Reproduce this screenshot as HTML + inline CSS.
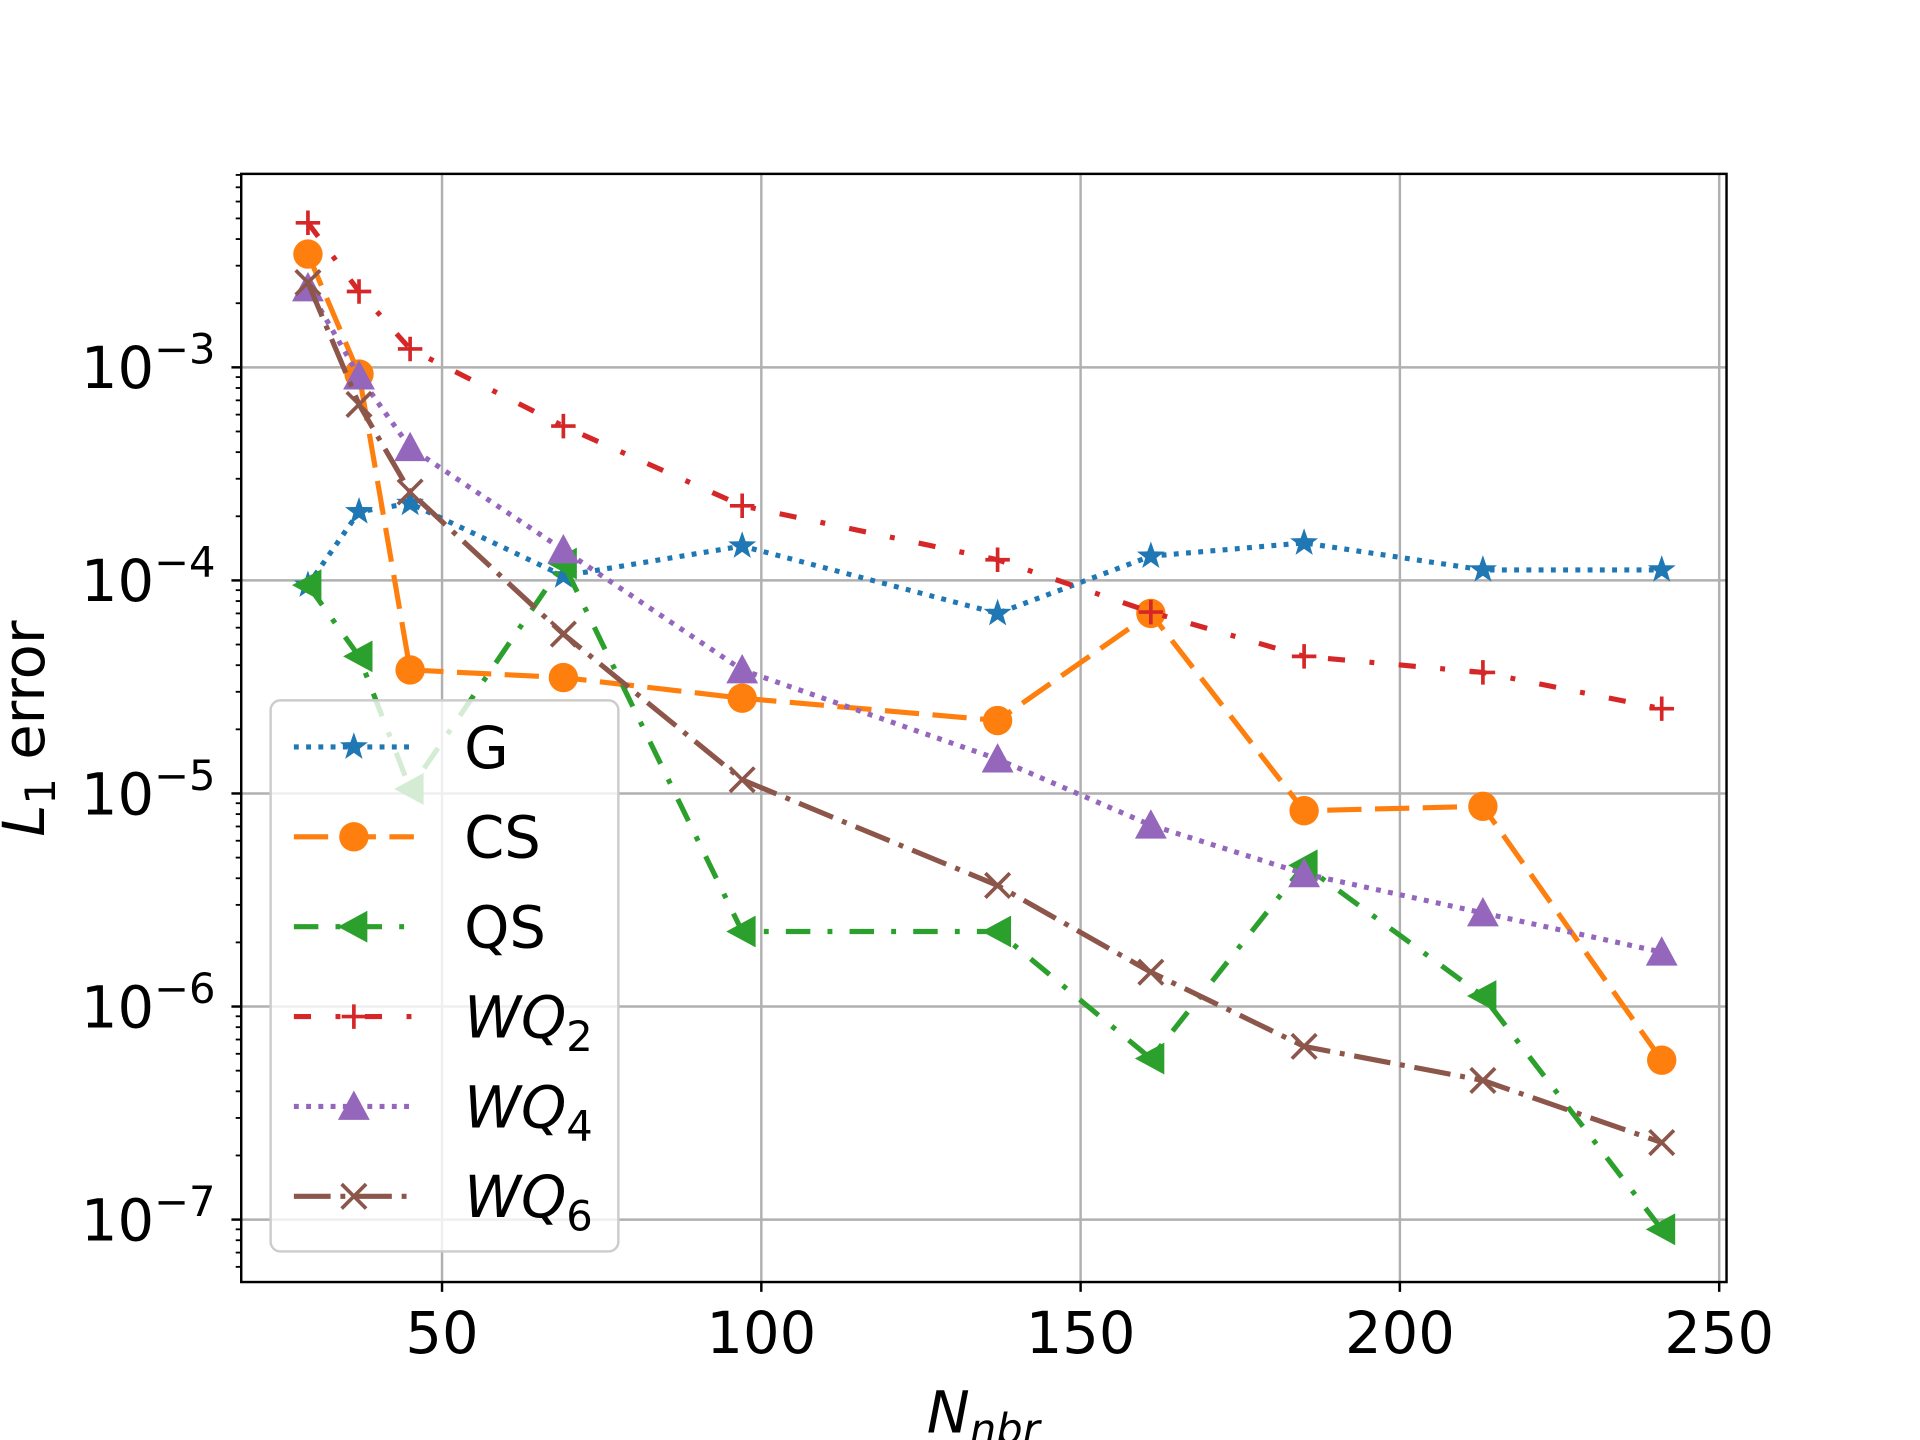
<!DOCTYPE html>
<html><head><meta charset="utf-8"><style>html,body{margin:0;padding:0;background:#fff}svg{display:block}</style></head>
<body>
<svg id="chart" width="1920" height="1440" viewBox="0 0 1568 1176" preserveAspectRatio="none" xmlns="http://www.w3.org/2000/svg" font-family="'DejaVu Sans','Liberation Sans',sans-serif">
<rect width="1568" height="1176" fill="#fff"/>
<g id="grid"></g><g id="series"></g><g id="axes"></g><g id="legend"></g>
</svg>
<script>
const xs = [29, 37, 45, 69, 97, 137, 161, 185, 213, 241];
const gVals = [9.5e-5, 2.1e-4, 2.3e-4, 1.05e-4, 1.45e-4, 7e-5, 1.3e-4, 1.5e-4, 1.12e-4, 1.12e-4];
const csVals = [3.4e-3, 9.3e-4, 3.8e-5, 3.5e-5, 2.8e-5, 2.2e-5, 7e-5, 8.3e-6, 8.7e-6, 5.6e-7];
const qsVals = [9.5e-5, 4.4e-5, 1.05e-5, 1.2e-4, 2.25e-6, 2.25e-6, 5.7e-7, 4.6e-6, 1.12e-6, 9e-8];
const wq2Vals = [4.77e-3, 2.27e-3, 1.22e-3, 5.3e-4, 2.24e-4, 1.25e-4, 7.1e-5, 4.4e-5, 3.7e-5, 2.5e-5];
const wq4Vals = [2.36e-3, 9.1e-4, 4.2e-4, 1.39e-4, 3.8e-5, 1.45e-5, 7.1e-6, 4.2e-6, 2.75e-6, 1.8e-6];
const wq6Vals = [2.5e-3, 6.7e-4, 2.6e-4, 5.6e-5, 1.16e-5, 3.7e-6, 1.45e-6, 6.5e-7, 4.5e-7, 2.3e-7];
const xTicks = [50, 100, 150, 200, 250];
const yTickExps = [-3, -4, -5, -6, -7];

const NS = "http://www.w3.org/2000/svg";
const L = 197, R = 1410, T = 142, B = 1047;
function sx(v){ return 361 + (v - 50) * (1043 / 200); }
function sy(v){ return 300 + (-3 - Math.log10(v)) * 174; }
function mk(tag, attrs, parent){ const e = document.createElementNS(NS, tag); for (const k in attrs) e.setAttribute(k, attrs[k]); parent.appendChild(e); return e; }
const grid = document.getElementById('grid'), ser = document.getElementById('series'), ax = document.getElementById('axes'), lg = document.getElementById('legend');

xTicks.forEach(t => {
  const g = mk('line', {x1: sx(t), x2: sx(t), y1: T, y2: B, stroke: '#b0b0b0', 'stroke-width': 2}, grid);
  
  
  mk('line', {x1: sx(t), x2: sx(t), y1: B, y2: B + 8, stroke: '#000', 'stroke-width': 2}, ax);
  const tx = mk('text', {x: sx(t), y: B + 58, 'font-size': 47, 'text-anchor': 'middle'}, ax);
  tx.textContent = t;
  
  
});
yTickExps.forEach(e => {
  const y = sy(Math.pow(10, e));
  const g = mk('line', {x1: L, x2: R, y1: y, y2: y, stroke: '#b0b0b0', 'stroke-width': 2}, grid);
  
  
  mk('line', {x1: L - 8, x2: L, y1: y, y2: y, stroke: '#000', 'stroke-width': 2}, ax);
  const tx = mk('text', {x: 176, y: y + 17, 'font-size': 47, 'text-anchor': 'end'}, ax);
  
  
  tx.innerHTML = '10<tspan dy="-20" font-size="34">\u2212' + (-e) + '</tspan>';
});
for (let e = -8; e <= -2; e++) for (let m = 2; m <= 9; m++) {
  const y = sy(m * Math.pow(10, e));
  if (y > T && y < B) mk('line', {x1: L - 4.5, x2: L, y1: y, y2: y, stroke: '#000', 'stroke-width': 1.5}, ax);
}
const frame = mk('rect', {x: L, y: T, width: R - L, height: B - T, fill: 'none', stroke: '#000', 'stroke-width': 2}, ax);


const xt = mk('text', {x: 803, y: 1170, 'font-size': 47, 'text-anchor': 'middle', 'font-style': 'italic'}, ax);


xt.innerHTML = 'N<tspan dy="9" font-size="34">nbr</tspan>';
const yt = mk('text', {transform: 'translate(36,595) rotate(-90)', 'font-size': 47, 'text-anchor': 'middle'}, ax);


yt.innerHTML = '<tspan font-style="italic">L</tspan><tspan dy="9" font-size="34">1</tspan><tspan dy="-9"> error</tspan>';

function marker(type, x, y, color, parent){
  let e;
  if (type === 'star') {
    let p = []; for (let i = 0; i < 10; i++) { const r = i % 2 ? 4.8 : 12, a = -Math.PI/2 + i*Math.PI/5; p.push((x + r*Math.cos(a)).toFixed(1) + ',' + (y + r*Math.sin(a)).toFixed(1)); }
    e = mk('polygon', {points: p.join(' '), fill: color}, parent);
  } else if (type === 'circle') e = mk('circle', {cx: x, cy: y, r: 12, fill: color}, parent);
  else if (type === 'left') e = mk('polygon', {points: `${x-13},${y} ${x+11},${y-13} ${x+11},${y+13}`, fill: color}, parent);
  else if (type === 'up') e = mk('polygon', {points: `${x},${y-13} ${x-13},${y+11} ${x+13},${y+11}`, fill: color}, parent);
  else if (type === 'plus') e = mk('path', {d: `M${x-10},${y}H${x+10}M${x},${y-10}V${y+10}`, stroke: color, 'stroke-width': 3}, parent);
  else e = mk('path', {d: `M${x-10},${y-10}L${x+10},${y+10}M${x-10},${y+10}L${x+10},${y-10}`, stroke: color, 'stroke-width': 3}, parent);
  return e;
}
const series = [
  {name: 'G', vals: gVals, color: '#1f77b4', dash: '4,6', m: 'star', label: 'G'},
  {name: 'CS', vals: csVals, color: '#ff7f0e', dash: '28,11', m: 'circle', label: 'CS'},
  {name: 'QS', vals: qsVals, color: '#2ca02c', dash: '20,14,4,14', m: 'left', label: 'QS'},
  {name: 'WQ2', vals: wq2Vals, color: '#d62728', dash: '14,20,4,20', m: 'plus', label: '2'},
  {name: 'WQ4', vals: wq4Vals, color: '#9467bd', dash: '4,6', m: 'up', label: '4'},
  {name: 'WQ6', vals: wq6Vals, color: '#8c564b', dash: '30,8,4,8', m: 'x', label: '6'}
];
series.forEach(s => {
  const g = mk('g', {}, ser);
  
  
  const line = mk('polyline', {points: xs.map((x, i) => sx(x) + ',' + sy(s.vals[i])).join(' '), fill: 'none', stroke: s.color, 'stroke-width': 4.2, 'stroke-dasharray': s.dash}, g);
  
  
  xs.forEach((x, i) => {
    const m = marker(s.m, sx(x), sy(s.vals[i]), s.color, g);
    
    
  });
});
const box = mk('rect', {x: 221, y: 572, width: 284, height: 450, rx: 8, fill: 'rgba(255,255,255,0.8)', stroke: '#ccc', 'stroke-width': 2}, lg);


series.forEach((s, i) => {
  const y = 610 + i * 73.4;
  const g = mk('g', {}, lg);
  
  
  mk('line', {x1: 240, x2: 338, y1: y, y2: y, stroke: s.color, 'stroke-width': 4.2, 'stroke-dasharray': s.dash}, g);
  marker(s.m, 289, y, s.color, g);
  const t = mk('text', {x: 379, y: y + 17, 'font-size': 47}, g);
  if (i < 3) t.textContent = s.label;
  else t.innerHTML = '<tspan font-style="italic">WQ</tspan><tspan dy="11" font-size="34">' + s.label + '</tspan>';
});
</script>
</body></html>
